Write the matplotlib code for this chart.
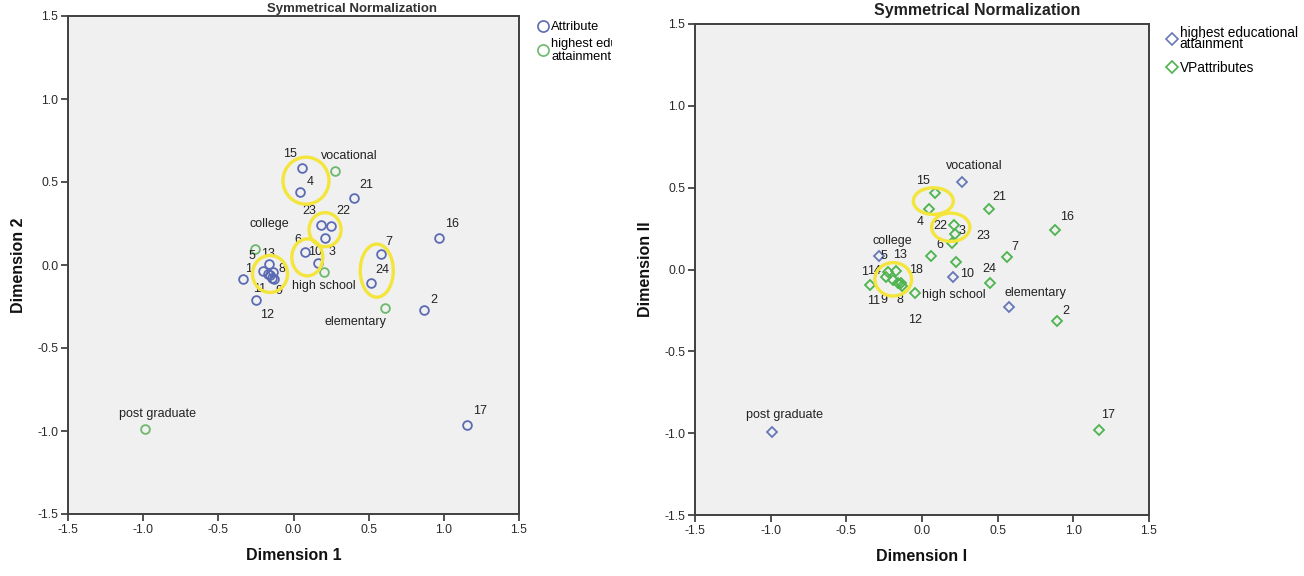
import matplotlib
matplotlib.use("Agg")
import matplotlib.pyplot as plt
from matplotlib.patches import Ellipse
from matplotlib.lines import Line2D
from matplotlib.transforms import Bbox, TransformedBbox

plt.rcParams['font.family'] = ['Liberation Sans', 'DejaVu Sans']

# ---------------- data: left panel ----------------
attr_labels_L = ['1', '2', '3', '4', '5', '6', '7', '8', '9', '10', '11', '12',
                 '13', '14', '15', '16', '17', '18', '21', '22', '23', '24']
attr_x_L = [-0.338, 0.868, 0.210, 0.043, -0.201, 0.079, 0.580, -0.136, -0.143, 0.161, -0.170, -0.250,
            -0.161, -0.156, 0.057, 0.966, 1.154, -0.130, 0.403, 0.250, 0.185, 0.514]
attr_y_L = [-0.084, -0.269, 0.163, 0.440, -0.034, 0.077, 0.066, -0.042, -0.078, 0.014, -0.054, -0.209,
            0.006, -0.060, 0.586, 0.164, -0.964, -0.084, 0.404, 0.235, 0.241, -0.110]
edu_labels_L = ['vocational', 'college', 'high school', 'elementary', 'post graduate']
edu_x_L = [0.274, -0.254, 0.205, 0.606, -0.988]
edu_y_L = [0.567, 0.096, -0.044, -0.259, -0.988]

# ---------------- data: right panel ----------------
attr_labels_R = ['1', '2', '3', '4', '5', '6', '7', '8', '9', '10', '11', '12',
                 '13', '14', '15', '16', '17', '18', '21', '22', '23', '24']
attr_x_R = [-0.344, 0.894, 0.218, 0.044, -0.223, 0.057, 0.560, -0.132, -0.157, 0.225, -0.190, -0.046,
            -0.172, -0.238, 0.086, 0.879, 1.170, -0.141, 0.443, 0.211, 0.200, 0.449]
attr_y_R = [-0.095, -0.313, 0.217, 0.371, -0.013, 0.082, 0.074, -0.101, -0.081, 0.048, -0.064, -0.142,
            -0.007, -0.048, 0.469, 0.241, -0.980, -0.084, 0.370, 0.272, 0.160, -0.080]
edu_labels_R = ['vocational', 'college', 'high school', 'elementary', 'post graduate']
edu_x_R = [0.262, -0.282, 0.207, 0.577, -0.993]
edu_y_R = [0.536, 0.082, -0.044, -0.227, -0.990]

ticks = [-1.5, -1.0, -0.5, 0.0, 0.5, 1.0, 1.5]

# ---------------- layout / styling (label offsets in pixels) ----------------
off_attr_L = {'1': (6, 10), '2': (10, 10), '3': (7, -14), '4': (10, 10), '5': (-11, 15), '6': (-8, 12),
              '7': (8, 12), '8': (9, 3), '9': (7, -13), '10': (-3, 11), '11': (-8, -15), '12': (11, -15),
              '13': (-1, 10), '15': (-12, 14), '16': (13, 14), '17': (13, 14), '21': (12, 13),
              '22': (12, 15), '23': (-12, 14), '24': (12, 13)}
off_edu_L = {'vocational': (15, 15), 'college': (14, 25), 'high school': (-1, -14),
             'elementary': (-29, -14), 'post graduate': (13, 15)}
off_attr_R = {'1': (-5, 13), '2': (9, 10), '3': (7, 3), '4': (-8, -13), '5': (-4, 16), '6': (9, 11),
              '7': (8, 10), '8': (-2, -14), '9': (-14, -17), '10': (11, -12), '11': (-20, -21),
              '12': (0, -27), '13': (4, 16), '14': (-12, 6), '15': (-12, 12), '16': (12, 13),
              '17': (9, 15), '18': (15, 13), '21': (10, 12), '22': (-14, -1), '23': (31, 7), '24': (-1, 14)}
off_edu_R = {'vocational': (13, 16), 'college': (13, 15), 'high school': (0, -18),
             'elementary': (26, 14), 'post graduate': (13, 17)}

ellipses_L = [(0.083, 0.508, 0.306, 0.283), (0.21, 0.213, 0.213, 0.205), (0.092, 0.046, 0.206, 0.223),
              (0.554, -0.034, 0.22, 0.32), (-0.156, -0.054, 0.233, 0.223)]
ellipses_R = [(0.075, 0.418, 0.264, 0.163), (0.19, 0.258, 0.253, 0.173), (-0.19, -0.06, 0.243, 0.204)]

BLUE_L, GREEN_L = '#5b6bb3', '#6cb86c'
BLUE_R, GREEN_R = '#6677b8', '#4db34d'
YELLOW = '#f3e53c'
BG = '#f0f0f0'

W, H = 1304, 576
fig = plt.figure(figsize=(W / 100, H / 100), dpi=100)
fig.patch.set_facecolor('white')

ax1 = fig.add_axes([68 / W, 62 / H, 451 / W, 498 / H])
ax2 = fig.add_axes([695 / W, 61 / H, 454 / W, 491 / H])


def style(ax, xlabel, ylabel):
    ax.set_facecolor(BG)
    ax.set_xlim(-1.5, 1.5)
    ax.set_ylim(-1.5, 1.5)
    ax.set_xticks(ticks)
    ax.set_yticks(ticks)
    ax.set_xticklabels([f'{t:.1f}' for t in ticks])
    ax.set_yticklabels([f'{t:.1f}' for t in ticks])
    ax.tick_params(direction='out', length=5, width=1.2, colors='#333333', labelsize=8.7,
                   labelcolor='#2a2a2a', pad=2)
    for s in ax.spines.values():
        s.set_color('#404040')
        s.set_linewidth(1.4)
    ax.set_xlabel(xlabel, fontsize=11.5, fontweight='bold', labelpad=9, color='#111111')
    ax.set_ylabel(ylabel, fontsize=11.5, fontweight='bold', labelpad=8, color='#111111')


def labels(ax, labs, xs, ys, offs):
    for lab, x, y in zip(labs, xs, ys):
        if lab in offs:
            dx, dy = offs[lab]
            ax.annotate(lab, (x, y), xytext=(dx, dy), textcoords='offset pixels',
                        ha='center', va='center', fontsize=9, color='#222222', zorder=4)


def rings(ax, ells):
    for cx, cy, w, h in ells:
        ax.add_patch(Ellipse((cx, cy), w, h, fill=False, edgecolor=YELLOW, linewidth=2.4, zorder=6))


# left panel
style(ax1, 'Dimension 1', 'Dimension 2')
ax1.plot(attr_x_L, attr_y_L, 'o', ms=6.3, mfc='none', mec=BLUE_L, mew=1.3, ls='none', zorder=3)
ax1.plot(edu_x_L, edu_y_L, 'o', ms=6.3, mfc='none', mec=GREEN_L, mew=1.3, ls='none', zorder=3)
labels(ax1, attr_labels_L, attr_x_L, attr_y_L, off_attr_L)
labels(ax1, edu_labels_L, edu_x_L, edu_y_L, off_edu_L)
rings(ax1, ellipses_L)

# right panel
style(ax2, 'Dimension I', 'Dimension II')
ax2.plot(edu_x_R, edu_y_R, 'D', ms=4.6, mfc='none', mec=BLUE_R, mew=1.3, ls='none', zorder=3)
ax2.plot(attr_x_R, attr_y_R, 'D', ms=4.6, mfc='none', mec=GREEN_R, mew=1.3, ls='none', zorder=3)
labels(ax2, attr_labels_R, attr_x_R, attr_y_R, off_attr_R)
labels(ax2, edu_labels_R, edu_x_R, edu_y_R, off_edu_R)
rings(ax2, ellipses_R)

# titles at the very top
fig.text(352 / W, 1 - 12 / H, 'Symmetrical Normalization', ha='center', va='baseline',
         fontsize=9.5, fontweight='bold', color='#333333')
fig.text(977 / W, 1 - 15 / H, 'Symmetrical Normalization', ha='center', va='baseline',
         fontsize=11.5, fontweight='bold', color='#222222')

# legends
hL = [Line2D([], [], marker='o', ls='none', ms=8, mfc='none', mec=BLUE_L, mew=1.2),
      Line2D([], [], marker='o', ls='none', ms=8, mfc='none', mec=GREEN_L, mew=1.2)]
legL = fig.legend(hL, ['Attribute', 'highest educational\nattainment'], loc='upper left',
                  bbox_to_anchor=(531 / W, 1 - 15 / H), frameon=False, fontsize=9.3,
                  handlelength=0.8, handletextpad=0.25, labelspacing=0.35, borderpad=0)
clip = TransformedBbox(Bbox([[0, 0], [612 / W, 1]]), fig.transFigure)
for t in legL.get_texts():
    t.set_linespacing(1.1)
    t.set_clip_box(clip)
    t.set_clip_on(True)

hR = [Line2D([], [], marker='D', ls='none', ms=6.5, mfc='none', mec=BLUE_R, mew=1.2),
      Line2D([], [], marker='D', ls='none', ms=6.5, mfc='none', mec=GREEN_R, mew=1.2)]
legR = fig.legend(hR, ['highest educational\nattainment', 'VPattributes'], loc='upper left',
                  bbox_to_anchor=(1160 / W, 1 - 19 / H), frameon=False, fontsize=9.8,
                  handlelength=0.8, handletextpad=0.15, labelspacing=0.7, borderpad=0)
for t in legR.get_texts():
    t.set_linespacing(0.75)

fig.savefig('out.png', dpi=100, facecolor='white')
